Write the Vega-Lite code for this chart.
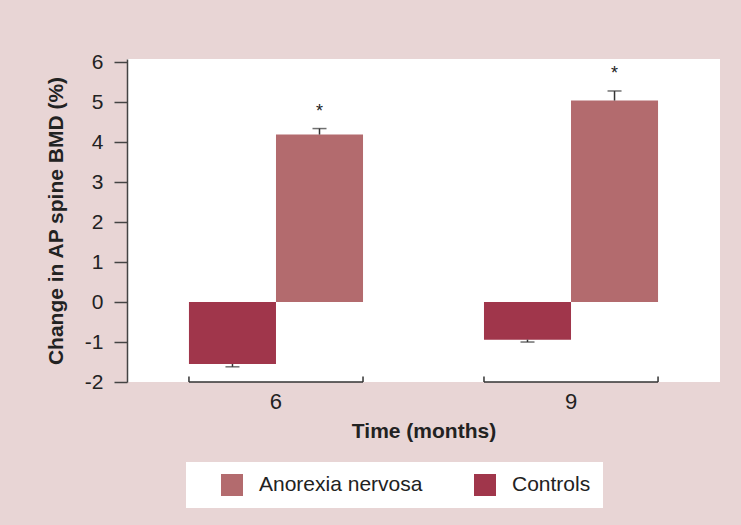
{
  "$schema": "https://vega.github.io/schema/vega-lite/v6.json",
  "autosize": {"type": "none"},
  "padding": {"left": 127, "top": 59, "right": 21, "bottom": 143},
  "width": 593,
  "height": 323,
  "background": "#e8d5d5",
  "config": {
    "view": {"fill": "white", "stroke": null},
    "font": "Liberation Sans"
  },
  "data": {
    "values": [
      {"time": "6", "group": "Controls", "value": -1.55, "cap": -1.62, "sig": ""},
      {"time": "6", "group": "Anorexia nervosa", "value": 4.19, "cap": 4.34, "sig": "*"},
      {"time": "9", "group": "Controls", "value": -0.94, "cap": -1.0, "sig": ""},
      {"time": "9", "group": "Anorexia nervosa", "value": 5.04, "cap": 5.28, "sig": "*"}
    ]
  },
  "encoding": {
    "x": {
      "field": "time", "type": "nominal",
      "scale": {"paddingInner": 0.41, "paddingOuter": 0.21},
      "axis": {
        "orient": "bottom", "domain": false, "ticks": false, "tickSize": 0,
        "labelAngle": 0, "labelFontSize": 22, "labelColor": "#222", "labelPadding": 9,
        "title": "Time (months)", "titleFontSize": 21, "titleFontWeight": "bold",
        "titleColor": "#222", "titlePadding": 8
      }
    }
  },
  "layer": [
    {
      "mark": {"type": "bar"},
      "encoding": {
        "xOffset": {"field": "group", "type": "nominal", "sort": ["Controls", "Anorexia nervosa"], "scale": {"paddingInner": 0, "paddingOuter": 0}},
        "y": {
          "field": "value", "type": "quantitative",
          "scale": {"domain": [-2, 6.08], "nice": false, "zero": false},
          "axis": {
            "values": [-2, -1, 0, 1, 2, 3, 4, 5, 6],
            "labelExpr": "datum.value < 0 ? '-' + abs(datum.value) : '' + datum.value",
            "grid": false, "domainColor": "#444", "domainWidth": 1.5,
            "tickColor": "#444", "tickWidth": 1.5, "tickSize": 13,
            "labelFontSize": 21, "labelColor": "#222", "labelPadding": 11,
            "title": "Change in AP spine BMD (%)", "titleFontSize": 21,
            "titleFontWeight": "bold", "titleColor": "#222", "titlePadding": 18
          }
        },
        "y2": {"datum": 0},
        "color": {
          "field": "group", "type": "nominal",
          "scale": {"domain": ["Anorexia nervosa", "Controls"], "range": ["#b36b6e", "#a0364b"]},
          "legend": {
            "orient": "none", "legendX": 59, "legendY": 403, "direction": "horizontal",
            "title": null, "fillColor": "white", "padding": 12,
            "symbolType": "square", "symbolSize": 484, "symbolStrokeWidth": 0,
            "symbolOffset": 23, "labelOffset": 16, "labelLimit": 400,
            "labelFontSize": 21, "labelColor": "#222", "columnPadding": 28
          }
        }
      }
    },
    {
      "mark": {"type": "rule", "color": "#333", "strokeWidth": 1.5},
      "encoding": {
        "xOffset": {"field": "group", "type": "nominal", "sort": ["Controls", "Anorexia nervosa"]},
        "y": {"field": "value", "type": "quantitative"},
        "y2": {"field": "cap"}
      }
    },
    {
      "mark": {"type": "tick", "color": "#333", "thickness": 1.5, "size": 14, "orient": "horizontal"},
      "encoding": {
        "xOffset": {"field": "group", "type": "nominal", "sort": ["Controls", "Anorexia nervosa"]},
        "y": {"field": "cap", "type": "quantitative"}
      }
    },
    {
      "mark": {"type": "text", "fontSize": 18, "color": "#222", "baseline": "alphabetic", "dy": -12},
      "encoding": {
        "xOffset": {"field": "group", "type": "nominal", "sort": ["Controls", "Anorexia nervosa"]},
        "y": {"field": "cap", "type": "quantitative"},
        "text": {"field": "sig"}
      }
    },
    {
      "mark": {"type": "rule", "color": "#666", "strokeWidth": 2},
      "encoding": {"y": {"datum": 0}}
    },
    {
      "transform": [{"filter": "datum.group === 'Controls'"}],
      "mark": {"type": "rule", "color": "#333", "strokeWidth": 1.5},
      "encoding": {
        "x": {"field": "time", "type": "nominal", "bandPosition": 0},
        "x2": {"field": "time", "bandPosition": 1},
        "y": {"datum": -2}
      }
    },
    {
      "transform": [{"filter": "datum.group === 'Controls'"}],
      "mark": {"type": "rule", "color": "#333", "strokeWidth": 1.5},
      "encoding": {
        "x": {"field": "time", "type": "nominal", "bandPosition": 0},
        "y": {"datum": -2},
        "y2": {"datum": -1.86}
      }
    },
    {
      "transform": [{"filter": "datum.group === 'Controls'"}],
      "mark": {"type": "rule", "color": "#333", "strokeWidth": 1.5},
      "encoding": {
        "x": {"field": "time", "type": "nominal", "bandPosition": 1},
        "y": {"datum": -2},
        "y2": {"datum": -1.86}
      }
    }
  ]
}
